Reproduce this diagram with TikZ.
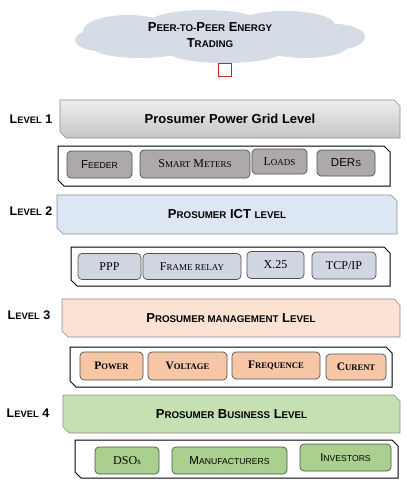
\documentclass[tikz,border=0pt]{standalone}
\usepackage{fontspec}
\setmainfont{Liberation Serif}
\setsansfont{Liberation Sans}
\makeatletter
\newcommand\lc[1]{{\@tempdima=\f@size pt\@tempdima=0.75\@tempdima\fontsize{\strip@pt\@tempdima}{\strip@pt\@tempdima}\selectfont #1}}
\makeatother
% chamfered box: x1,y1,x2,y2,cut,style
\newcommand\chbox[6]{\path[#6] (#1,#2) -- (#3-#5,#2) -- (#3,#2+#5) -- (#3,#4) -- (#1+#5,#4) -- (#1,#4-#5) -- cycle;}
\definecolor{cloudc}{HTML}{D6DCE5}
\definecolor{redc}{HTML}{D02020}
\definecolor{barline}{HTML}{8C8C8C}
\definecolor{itemline}{HTML}{505050}
\definecolor{grayA}{HTML}{EDEDED}
\definecolor{grayB}{HTML}{C6C6C6}
\definecolor{grayI}{HTML}{ADA9A9}
\definecolor{blueA}{HTML}{DCE7F3}
\definecolor{blueI}{HTML}{D0D7E2}
\definecolor{peachA}{HTML}{FBE2D3}
\definecolor{peachI}{HTML}{F6C6A6}
\definecolor{greenA}{HTML}{C6E0B4}
\definecolor{greenI}{HTML}{A9D08E}
\begin{document}
\begin{tikzpicture}[x=1pt,y=-1pt,
  barline/.style={draw=barline, line width=0.6pt},
  holderline/.style={draw=black, line width=1pt, fill=white},
  bartext/.style={inner sep=0pt, font=\sffamily\bfseries\fontsize{13}{15}\selectfont},
  item/.style={rectangle, rounded corners=4pt, draw=itemline, line width=0.7pt, inner sep=0pt},
  isans/.style={font=\sffamily\fontsize{11.5}{13}\selectfont},
  iserif/.style={font=\rmfamily\fontsize{12}{14}\selectfont},
  iserifb/.style={font=\rmfamily\bfseries\fontsize{11.5}{14}\selectfont},
  lvl/.style={font=\sffamily\bfseries\fontsize{12.5}{14}\selectfont, inner sep=0pt}]
\useasboundingbox (0,0) rectangle (407,485);
% cloud
\begin{scope}[fill=cloudc]
  \fill (220,37) ellipse [x radius=125pt, y radius=19pt];
  \fill (128,31) ellipse [x radius=45pt, y radius=16pt];
  \fill (205,24) ellipse [x radius=58pt, y radius=14pt];
  \fill (285,25) ellipse [x radius=50pt, y radius=14pt];
  \fill (335,37) ellipse [x radius=30pt, y radius=13pt];
  \fill (100,40) ellipse [x radius=25pt, y radius=11pt];
  \fill (140,47) ellipse [x radius=48pt, y radius=11pt];
  \fill (225,50) ellipse [x radius=60pt, y radius=13pt];
  \fill (305,47) ellipse [x radius=42pt, y radius=11pt];
\end{scope}
\coordinate (cloud) at (220,37);
\node[font=\sffamily\bfseries\fontsize{13}{16}\selectfont, align=center, inner sep=0pt] (ctext) at (210,35)
  {P\lc{EER-TO-}P\lc{EER} E\lc{NERGY}\\T\lc{RADING}};
\node[draw=redc, line width=1.2pt, fill=white, minimum size=13pt, inner sep=0pt] (sq) at (225,70) {};
% level 1
\node[lvl] (l1) at (31,119) {L\lc{EVEL} 1};
\chbox{60}{100}{400}{138}{6}{barline, top color=grayA, bottom color=grayB}
\node[bartext] (b1) at (230,119) {Prosumer Power Grid Level};
\chbox{58}{146}{390}{186}{6}{holderline}
\coordinate (c1) at (224,166);
\node[item, fill=grayI, isans, minimum width=65pt, minimum height=27pt] (i11) at (99.5,164.5) {F\lc{EEDER}};
\node[item, fill=grayI, iserif, minimum width=110pt, minimum height=28pt] (i12) at (195,164) {S\lc{MART} M\lc{ETERS}};
\node[item, fill=grayI, iserif, minimum width=55pt, minimum height=25pt] (i13) at (279.5,161.5) {L\lc{OADS}};
\node[item, fill=grayI, isans, minimum width=58pt, minimum height=26pt] (i14) at (346,163) {DER\lc{S}};
% level 2
\node[lvl] (l2) at (31,211) {L\lc{EVEL} 2};
\chbox{57}{195}{397}{234}{6}{barline, fill=blueA}
\node[bartext] (b2) at (227,214.5) {P\lc{ROSUMER} ICT \lc{LEVEL}};
\chbox{71}{247}{390}{286}{6}{holderline}
\coordinate (c2) at (230,266);
\node[item, fill=blueI, iserif, minimum width=63pt, minimum height=26pt] (i21) at (109.5,266.5) {PPP};
\node[item, fill=blueI, iserif, minimum width=98pt, minimum height=26pt] (i22) at (192,266.5) {F\lc{RAME RELAY}};
\node[item, fill=blueI, iserif, minimum width=57pt, minimum height=27pt] (i23) at (275.5,265) {X.25};
\node[item, fill=blueI, iserif, minimum width=64pt, minimum height=27pt] (i24) at (344,265.5) {TCP/IP};
% level 3
\node[lvl] (l3) at (29,315) {L\lc{EVEL} 3};
\chbox{62}{299}{400}{337}{6}{barline, fill=peachA}
\node[bartext] (b3) at (231,318) {P\lc{ROSUMER MANAGEMENT} L\lc{EVEL}};
\chbox{70}{347}{392}{387}{6}{holderline}
\coordinate (c3) at (231,367);
\node[item, fill=peachI, iserifb, minimum width=63pt, minimum height=28pt] (i31) at (111.5,366) {P\lc{OWER}};
\node[item, fill=peachI, iserifb, minimum width=79pt, minimum height=28pt] (i32) at (187.5,366) {V\lc{OLTAGE}};
\node[item, fill=peachI, iserifb, minimum width=88pt, minimum height=27pt] (i33) at (276,365.5) {F\lc{REQUENCE}};
\node[item, fill=peachI, iserifb, minimum width=60pt, minimum height=26pt] (i34) at (356,367) {C\lc{URENT}};
% level 4
\node[lvl] (l4) at (28,413) {L\lc{EVEL} 4};
\chbox{63}{395}{400}{433}{6}{barline, fill=greenA}
\node[bartext] (b4) at (231.5,414) {P\lc{ROSUMER} B\lc{USINESS} L\lc{EVEL}};
\chbox{75}{440}{398}{478}{6}{holderline}
\coordinate (c4) at (236.5,459);
\node[item, fill=greenI, iserif, minimum width=64pt, minimum height=27pt] (i41) at (127,460.5) {DSO\lc{s}};
\node[item, fill=greenI, isans, minimum width=115pt, minimum height=27pt] (i42) at (229.5,460.5) {M\lc{ANUFACTURERS}};
\node[item, fill=greenI, isans, minimum width=91pt, minimum height=27pt] (i43) at (345.5,457.5) {I\lc{NVESTORS}};
\end{tikzpicture}
\end{document}
